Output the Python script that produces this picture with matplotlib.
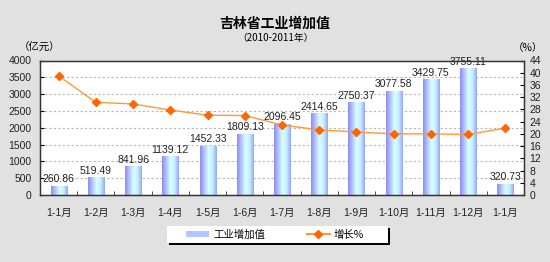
import matplotlib
matplotlib.use("Agg")
import matplotlib.pyplot as plt
import numpy as np
from matplotlib.colors import LinearSegmentedColormap
from matplotlib.lines import Line2D
from matplotlib.patches import Patch

plt.rcParams['font.family'] = ['Liberation Sans', 'Noto Sans CJK SC', 'DejaVu Sans']

# data
months = ["1-1月", "1-2月", "1-3月", "1-4月", "1-5月", "1-6月", "1-7月",
          "1-8月", "1-9月", "1-10月", "1-11月", "1-12月", "1-1月"]
value_added = [260.86, 519.49, 841.96, 1139.12, 1452.33, 1809.13, 2096.45,
               2414.65, 2750.37, 3077.58, 3429.75, 3755.11, 320.73]
growth = [39.0, 30.3, 29.8, 27.8, 26.1, 26.0, 22.9,
          21.3, 20.6, 20.0, 20.0, 19.8, 21.9]
left_ticks = list(range(0, 4001, 500))
right_ticks = list(range(0, 45, 4))

fig = plt.figure(figsize=(5.5, 2.62), dpi=100)
fig.patch.set_facecolor("#e1e1e1")
ax = fig.add_axes([40 / 550, 1 - 195 / 262, 484 / 550, 134.5 / 262])
ax.set_facecolor("white")

x = np.arange(len(months))
bar_cmap = LinearSegmentedColormap.from_list(
    "bar", ["#8c8cf4", "#b4c4ff", "#d8ffff", "#c4f0ff", "#9aa4ff"])
grad = np.linspace(0, 1, 64).reshape(1, -1)

bars = ax.bar(x, value_added, width=0.43, color="none", zorder=2)
for b in bars:
    x0, w, h = b.get_x(), b.get_width(), b.get_height()
    ax.imshow(grad, cmap=bar_cmap, extent=[x0, x0 + w, 0, h],
              aspect="auto", zorder=2)
for xi, v in zip(x, value_added):
    ax.text(xi, v + 60, f"{v:.2f}", ha="center", va="bottom",
            fontsize=7.5, color="#222222", zorder=4)

ax.set_xlim(-0.5, len(months) - 0.5)
ax.set_ylim(0, 4000)
ax.set_yticks(left_ticks)
for t in left_ticks[1:-1]:
    ax.axhline(t, color="#b8b8b8", lw=0.8, ls=(0, (2, 2)), zorder=1)
ax.set_xticks(x)
ax.set_xticklabels(months, fontsize=7.5, color="#222222")
ax.set_xticks(x[:-1] + 0.5, minor=True)
ax.tick_params(axis="x", which="major", length=0, pad=9)
ax.tick_params(axis="x", which="minor", direction="in", length=3, color="#333333")
ax.tick_params(axis="y", direction="in", length=3, labelsize=7.5,
               labelcolor="#222222", pad=6)
for s in ax.spines.values():
    s.set_color("#333333")
    s.set_linewidth(1.0)

ax2 = ax.twinx()
ax2.plot(x, growth, color="#ff9933", lw=1.0, marker="D", markersize=4.5,
         markerfacecolor="#ff6600", markeredgecolor="#ff6600", zorder=5)
ax2.set_ylim(0, 44)
ax2.set_yticks(right_ticks)
ax2.tick_params(axis="y", direction="in", length=3, labelsize=7.5,
                labelcolor="#222222", pad=4)
for s in ax2.spines.values():
    s.set_color("#333333")

fig.text(0.5, 1 - 23.5 / 262, "吉林省工业增加值", ha="center", va="center",
         fontsize=10, fontweight="bold", family=["Noto Sans CJK SC"])
fig.text(0.5, 1 - 38 / 262, "（2010-2011年）", ha="center", va="center",
         fontsize=7, family=["Noto Sans CJK SC"])
fig.text(40 / 550, 1 - 48 / 262, "（亿元）", ha="center", va="center",
         fontsize=7.5, family=["Noto Sans CJK SC"])
fig.text(528 / 550, 1 - 48 / 262, "（%）", ha="center", va="center",
         fontsize=7.5, family=["Noto Sans CJK SC"])

# legend box with shadow, drawn by hand
fig.patches.append(plt.Rectangle((169 / 550, 1 - 245 / 262), 221 / 550, 17 / 262,
                                 transform=fig.transFigure, facecolor="black",
                                 edgecolor="none", zorder=0))
fig.patches.append(plt.Rectangle((167 / 550, 1 - 243 / 262), 221 / 550, 17 / 262,
                                 transform=fig.transFigure, facecolor="white",
                                 edgecolor="none", zorder=1))
handles = [Patch(facecolor="#b4c4ff", edgecolor="none"),
           Line2D([0], [0], color="#ff9933", marker="D", markersize=4,
                  markerfacecolor="#ff6600", markeredgecolor="#ff6600")]
leg = fig.legend(handles, ["工业增加值", "增长%"], ncol=2,
                 loc="center", bbox_to_anchor=(275 / 550, 1 - 234.5 / 262),
                 frameon=False, columnspacing=4.0, handlelength=2.2,
                 handletextpad=0.4, handleheight=0.6,
                 prop={"family": ["Noto Sans CJK SC"], "size": 7.5})

fig.savefig("out.png", dpi=100, facecolor=fig.get_facecolor())
